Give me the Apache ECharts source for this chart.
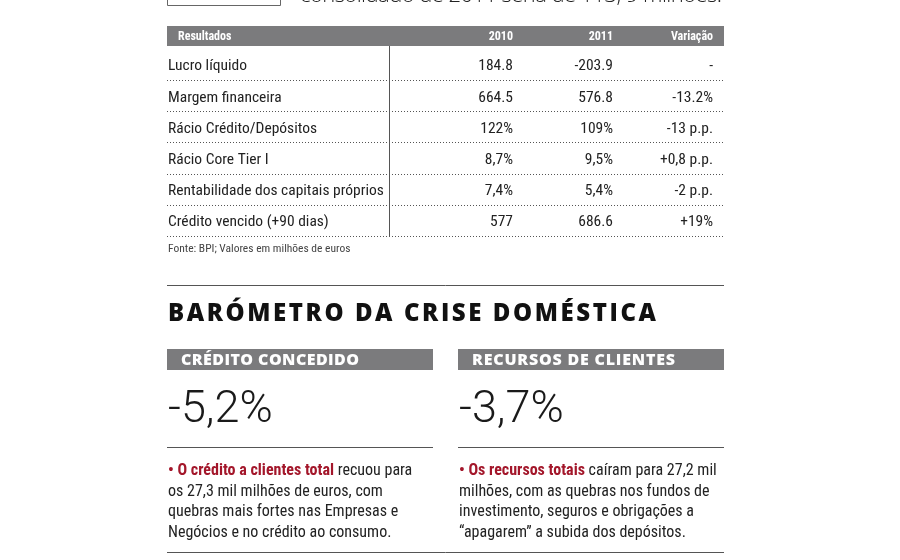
<!DOCTYPE html>
<html><head><meta charset="utf-8">
<script src="https://cdn.jsdelivr.net/npm/echarts@6/dist/echarts.min.js"></script>
<style>html,body{margin:0;padding:0;background:#fff}#c{width:900px;height:560px}</style>
</head><body><div id="c"></div>
<script>
// ---- data ----
const tableHeader = ['Resultados', '2010', '2011', 'Variação'];
const rowLabels = ['Lucro líquido', 'Margem financeira', 'Rácio Crédito/Depósitos', 'Rácio Core Tier I', 'Rentabilidade dos capitais próprios', 'Crédito vencido (+90 dias)'];
const values2010 = ['184.8', '664.5', '122%', '8,7%', '7,4%', '577'];
const values2011 = ['-203.9', '576.8', '109%', '9,5%', '5,4%', '686.6'];
const variation = ['-', '-13.2%', '-13 p.p.', '+0,8 p.p.', '-2 p.p.', '+19%'];
const sourceNote = 'Fonte: BPI; Valores em milhões de euros';
const topText = 'consolidado de 2011 seria de 113, 9 milhões.';
const sectionTitle = 'BARÓMETRO DA CRISE DOMÉSTICA';
const panelTitles = ['CRÉDITO CONCEDIDO', 'RECURSOS DE CLIENTES'];
const panelValues = ['-5,2%', '-3,7%'];
const panelHighlights = ['• O crédito a clientes total', '• Os recursos totais'];
const panelBodies = [
  [' recuou para', 'os 27,3 mil milhões de euros, com', 'quebras mais fortes nas Empresas e', 'Negócios e no crédito ao consumo.'],
  [' caíram para 27,2 mil', 'milhões, com as quebras nos fundos de', 'investimento, seguros e obrigações a', '“apagarem” a subida dos depósitos.']
];

// ---- layout ----
const NARROW = '"Liberation Sans Narrow", "Roboto Condensed", "Roboto", sans-serif';
const WIDE = '"Open Sans", "DejaVu Sans", sans-serif';
const L = 167, R = 724;
const cv = document.createElement('canvas').getContext('2d');
function measure(t, font) { cv.font = font; return cv.measureText(t).width; }

function spaced(str, x, y, size, weight, family, color, targetW) {
  const font = weight + ' ' + size + 'px ' + family;
  const chars = Array.from(str);
  const ws = chars.map(c => measure(c, font));
  const nat = ws.reduce((a, b) => a + b, 0);
  const sp = (targetW - nat) / (chars.length - 1);
  const els = [];
  let cx = x;
  chars.forEach((c, i) => {
    els.push({ type: 'text', x: cx, y: y, silent: true,
      style: { text: c, fill: color, font: font, textAlign: 'left', textVerticalAlign: 'middle' } });
    cx += ws[i] + sp;
  });
  return els;
}

const g = [];
// top fragment
g.push({ type: 'rect', shape: { x: L + 0.5, y: -20, width: 113, height: 25.5 }, style: { fill: 'none', stroke: '#666', lineWidth: 1 } });
g.push(...spaced(topText, 300, -4.5, 22, '300', WIDE, '#222', 422));

// header bar
g.push({ type: 'rect', shape: { x: L, y: 26, width: R - L, height: 20 }, style: { fill: '#7b7b7d' } });
const colX = [178, 513, 613, 713];
tableHeader.forEach((h, i) => {
  g.push({ type: 'text', x: colX[i], y: 36.5, style: { text: h, fill: '#fff', font: 'bold 12px ' + NARROW, textAlign: i === 0 ? 'left' : 'right', textVerticalAlign: 'middle' } });
});
// rows
const rowH = 31.2, row0 = 66.5;
rowLabels.forEach((lab, i) => {
  const y = row0 + i * rowH;
  g.push({ type: 'text', x: 168, y: y, style: { text: lab, fill: '#222', font: '15.5px ' + NARROW, textAlign: 'left', textVerticalAlign: 'middle' } });
  [values2010[i], values2011[i], variation[i]].forEach((v, j) => {
    g.push({ type: 'text', x: colX[j + 1], y: y, style: { text: v, fill: '#222', font: '15.5px ' + NARROW, textAlign: 'right', textVerticalAlign: 'middle' } });
  });
  const ly = Math.round(y + 13.5) + 0.5;
  g.push({ type: 'line', shape: { x1: L, y1: ly, x2: R, y2: ly }, style: { stroke: '#555', lineWidth: 1, lineDash: [1, 2] } });
});
g.push({ type: 'line', shape: { x1: 389.5, y1: 46, x2: 389.5, y2: 237 }, style: { stroke: '#555', lineWidth: 1 } });
g.push({ type: 'text', x: 168, y: 249, style: { text: sourceNote, fill: '#444', font: '11.5px ' + NARROW, textAlign: 'left', textVerticalAlign: 'middle' } });

// section
g.push({ type: 'line', shape: { x1: L, y1: 285.5, x2: R, y2: 285.5 }, style: { stroke: '#555', lineWidth: 1 } });
g.push(...spaced(sectionTitle, 168, 314, 24, '800', WIDE, '#111', 488));

const panelX = [167, 458], panelW = 266;
const titleW = [178, 203];
panelTitles.forEach((t, i) => {
  const x = panelX[i];
  g.push({ type: 'rect', shape: { x: x, y: 349, width: panelW, height: 21 }, style: { fill: '#7b7b7d' } });
  g.push(...spaced(t, x + 14, 360, 16, '800', WIDE, '#fff', titleW[i]));
  g.push({ type: 'text', x: x + 1, y: 411, style: { text: panelValues[i], fill: '#1a1a1a', font: '300 45px Roboto, "Open Sans", sans-serif', textAlign: 'left', textVerticalAlign: 'middle' } });
  g.push({ type: 'line', shape: { x1: x, y1: 447.5, x2: x + panelW, y2: 447.5 }, style: { stroke: '#555', lineWidth: 1 } });
  const body = panelBodies[i];
  const txt = '{r|' + panelHighlights[i] + '}{n|' + body[0] + '}\n' + body.slice(1).map(s => '{n|' + s + '}').join('\n');
  g.push({ type: 'text', x: x + 1, y: 460.5, style: {
    text: txt, textAlign: 'left', textVerticalAlign: 'top',
    rich: {
      r: { fill: '#a3162a', font: 'bold 16px ' + NARROW, lineHeight: 20.7 },
      n: { fill: '#222', font: '16px ' + NARROW, lineHeight: 20.7 }
    } } });
});
g.push({ type: 'line', shape: { x1: L, y1: 552.5, x2: R, y2: 552.5 }, style: { stroke: '#555', lineWidth: 1 } });

const chart = echarts.init(document.getElementById('c'), null, { renderer: 'canvas' });
chart.setOption({ animation: false, backgroundColor: '#fff', graphic: { elements: g } });
</script></body></html>
